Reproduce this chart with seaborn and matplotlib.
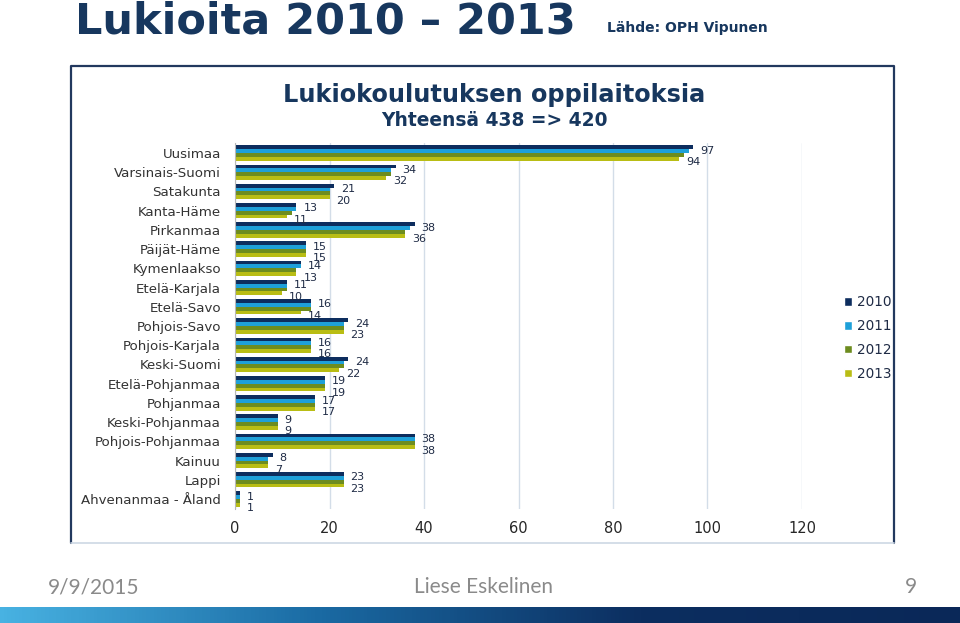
import matplotlib
matplotlib.use("Agg")
import matplotlib.pyplot as plt
from matplotlib.colors import LinearSegmentedColormap
from matplotlib.patches import Patch
from matplotlib.lines import Line2D
import seaborn as sns
import numpy as np
import pandas as pd

regions = ["Uusimaa", "Varsinais-Suomi", "Satakunta", "Kanta-Häme", "Pirkanmaa",
           "Päijät-Häme", "Kymenlaakso", "Etelä-Karjala", "Etelä-Savo", "Pohjois-Savo",
           "Pohjois-Karjala", "Keski-Suomi", "Etelä-Pohjanmaa", "Pohjanmaa",
           "Keski-Pohjanmaa", "Pohjois-Pohjanmaa", "Kainuu", "Lappi", "Ahvenanmaa - Åland"]
years = ["2010", "2011", "2012", "2013"]
v2010 = [97, 34, 21, 13, 38, 15, 14, 11, 16, 24, 16, 24, 19, 17, 9, 38, 8, 23, 1]
v2011 = [96, 33, 20, 13, 37, 15, 14, 11, 16, 23, 16, 23, 19, 17, 9, 38, 7, 23, 1]
v2012 = [95, 33, 20, 12, 36, 15, 13, 11, 16, 23, 16, 23, 19, 17, 9, 38, 7, 23, 1]
v2013 = [94, 32, 20, 11, 36, 15, 13, 10, 14, 23, 16, 22, 19, 17, 9, 38, 7, 23, 1]
xticks = [0, 20, 40, 60, 80, 100, 120]
colors = ["#0d2d5e", "#1ea0d9", "#6d8c1f", "#b9bd14"]

navy = "#17375e"

df = pd.DataFrame({
    "region": regions * 4,
    "year": [y for y in years for _ in regions],
    "value": v2010 + v2011 + v2012 + v2013,
})

sns.set_style("white")
plt.rcParams["font.family"] = ["DejaVu Sans"]

fig = plt.figure(figsize=(9.6, 6.23), dpi=100)

# chart box
fx = lambda px: px / 960
fy = lambda py: 1 - py / 623
fig.add_artist(Line2D([fx(71), fx(71), fx(894), fx(894)], [fy(543), fy(66), fy(66), fy(543)],
                      color="#22385e", lw=1.6, transform=fig.transFigure))
fig.add_artist(Line2D([fx(71), fx(894)], [fy(543), fy(543)],
                      color="#cdd8e4", lw=1.2, transform=fig.transFigure))

ax = fig.add_axes([fx(235), fy(508.6), fx(802 - 235), (508.6 - 143.4) / 623])
sns.barplot(data=df, x="value", y="region", hue="year", orient="h",
            palette=colors, saturation=1, width=0.8, linewidth=0, legend=False, ax=ax)

for i in (0, 3):
    for t in ax.bar_label(ax.containers[i], padding=5, fontsize=8, color="#1f2b45"):
        t.xyann = (5, -2.5)

ax.set_xlim(0, 120)
ax.set_xticks(xticks)
ax.set_xlabel("")
ax.set_ylabel("")
ax.grid(axis="x", color="#d3dde8", lw=1)
ax.set_axisbelow(True)
for s in ["top", "right", "bottom"]:
    ax.spines[s].set_visible(False)
ax.spines["left"].set_color("#b8b8b8")
ax.tick_params(axis="y", length=0, pad=10, labelsize=9.6, labelcolor="#333333")
ax.tick_params(axis="x", length=0, pad=9, labelsize=10.5, labelcolor="#262626")

handles = [Patch(facecolor=c, label=y) for c, y in zip(colors, years)]
fig.legend(handles=handles, loc="upper left", bbox_to_anchor=(fx(832), fy(283)),
           frameon=False, fontsize=9.8, handlelength=0.6, handleheight=0.6,
           handletextpad=0.35, labelspacing=0.72, labelcolor="#1f2b45")

# titles
fig.text(fx(75), fy(34), "Lukioita 2010 – 2013", fontsize=31, fontweight="bold",
         color=navy, va="baseline", ha="left")
fig.text(fx(607), fy(28), "Lähde: OPH Vipunen", fontsize=10, fontweight="bold",
         color=navy, va="center", ha="left")
fig.text(fx(494), fy(95), "Lukiokoulutuksen oppilaitoksia", fontsize=17.3, fontweight="bold",
         color=navy, va="center", ha="center")
fig.text(fx(494), fy(120), "Yhteensä 438 => 420", fontsize=13.4, fontweight="bold",
         color=navy, va="center", ha="center")

# footer
foot = dict(fontsize=15, color="#8a8a8a", va="center", family=["Lato", "DejaVu Sans"])
fig.text(fx(48), fy(587), "9/9/2015", ha="left", **foot)
fig.text(fx(484), fy(587), "Liese Eskelinen", ha="center", **foot)
fig.text(fx(917), fy(587), "9", ha="right", **foot)

gax = fig.add_axes([0, 0, 1, 16 / 623])
cmap = LinearSegmentedColormap.from_list("band", ["#48b2e2", "#1a6aa3", "#0c2e60", "#0a2858"])
gax.imshow(np.linspace(0, 1, 256)[None, :], aspect="auto", cmap=cmap)
gax.axis("off")

fig.savefig("out.png", dpi=100)
